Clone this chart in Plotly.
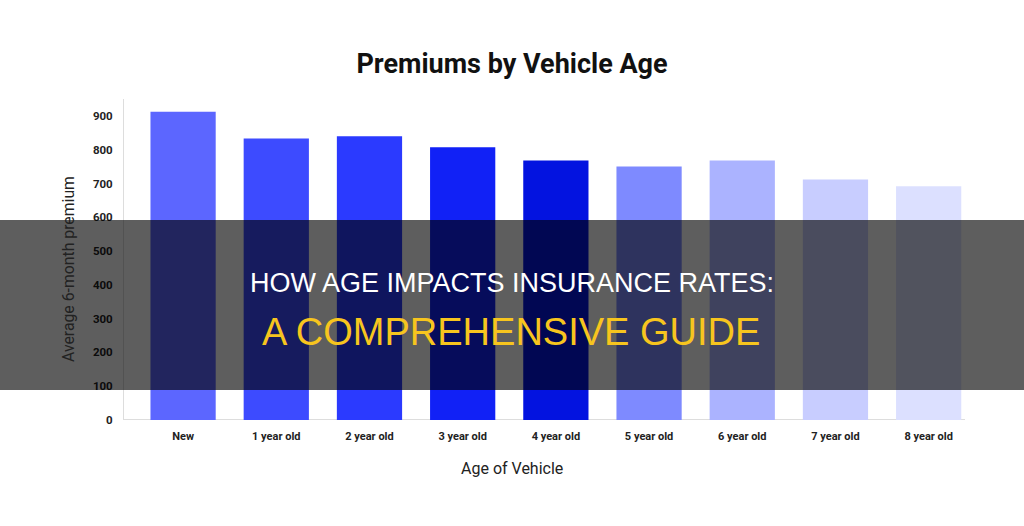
import plotly.graph_objects as go

categories = ["New", "1 year old", "2 year old", "3 year old", "4 year old",
              "5 year old", "6 year old", "7 year old", "8 year old"]
premiums = [912, 833, 840, 807, 768, 750, 768, 712, 692]
bar_colors = ["#5C66FF", "#3D4BFF", "#2B3AFF", "#1121F6", "#0313E0",
              "#7E8AFF", "#ABB3FF", "#C8CDFF", "#DCE0FF"]
y_ticks = [0, 100, 200, 300, 400, 500, 600, 700, 800, 900]

W, H = 1024, 526
L, R, T, B = 124, 59, 99, 106
PW, PH = W - L - R, H - T - B


def px(x):
    return (x - L) / PW


def py(y):
    return (H - B - y) / PH


fig = go.Figure()
fig.add_trace(go.Bar(
    x=categories, y=premiums,
    marker=dict(color=bar_colors, line=dict(width=0)),
    width=0.7,
))

fig.update_layout(
    width=W, height=H,
    margin=dict(l=L, r=R, t=T, b=B),
    paper_bgcolor="white", plot_bgcolor="white",
    showlegend=False,
    title=dict(text="Premiums by Vehicle Age", x=0.5, xanchor="center",
               y=1 - 64 / H, yanchor="middle",
               font=dict(family="Roboto", size=27, color="#111111", weight=700)),
    xaxis=dict(
        range=[-0.634, 8.39],
        showgrid=False, zeroline=False,
        showline=False,
        tickfont=dict(family="Roboto", size=11, color="#222222", weight=700),
        ticks="", ticklen=0,
        ticklabelstandoff=8,
    ),
    yaxis=dict(
        range=[0, 950],
        tickvals=y_ticks,
        showgrid=False, zeroline=False,
        showline=True, linecolor="#DDDDDD", linewidth=1,
        tickfont=dict(family="Roboto", size=11.5, color="#222222", weight=700),
        ticks="",
        ticklabelstandoff=8,
    ),
)

# axis titles
fig.add_annotation(text="Age of Vehicle", xref="paper", yref="paper",
                   x=px(512), y=py(468), showarrow=False,
                   xanchor="center", yanchor="middle",
                   font=dict(family="Roboto", size=16, color="#222222"))
fig.add_annotation(text="Average 6-month premium", xref="paper", yref="paper",
                   x=px(68), y=py(269), showarrow=False, textangle=-90,
                   xanchor="center", yanchor="middle",
                   font=dict(family="Roboto", size=15.8, color="#222222"))

# baseline
fig.add_shape(type="line", xref="paper", yref="y", x0=0, x1=1, y0=0, y1=0,
              line=dict(color="#DDDDDD", width=2), layer="below")

# dark banner overlay
fig.add_shape(type="rect", xref="paper", yref="paper",
              x0=px(0), x1=px(W), y0=py(390), y1=py(220),
              fillcolor="rgba(0,0,0,0.63)", line=dict(width=0), layer="above")

fig.add_annotation(text="HOW AGE IMPACTS INSURANCE RATES:",
                   xref="paper", yref="paper", x=px(512), y=py(283),
                   showarrow=False, xanchor="center", yanchor="middle",
                   font=dict(family="Liberation Sans", size=27, color="white"))
fig.add_annotation(text="A COMPREHENSIVE GUIDE",
                   xref="paper", yref="paper", x=px(511), y=py(332),
                   showarrow=False, xanchor="center", yanchor="middle",
                   font=dict(family="Liberation Sans", size=38, color="#F7C51E"))

fig.write_html("out.html")
